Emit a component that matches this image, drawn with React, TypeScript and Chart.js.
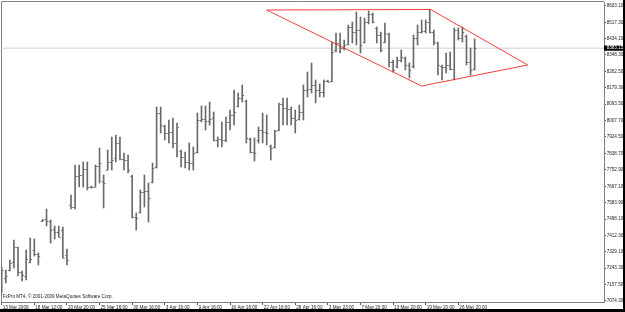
import React, { useEffect, useRef } from "react";
import { Chart, registerables } from "chart.js";

Chart.register(...registerables);

// ---- data ----
const xLabels = [
  "13 Mar 2009", "18 Mar 12:00", "20 Mar 20:00", "25 Mar 16:00", "30 Mar 16:00",
  "3 Apr 16:00", "9 Apr 16:00", "16 Apr 16:00", "22 Apr 16:00", "28 Apr 16:00",
  "3 May 23:00", "7 May 20:00", "13 May 20:00", "19 May 20:00", "26 May 20:00",
];
const xLabelBars = [0, 8, 16, 24, 32, 40, 48, 56, 64, 72, 80, 88, 96, 104, 112];

const yTickValues = [
  8603.10, 8517.30, 8434.10, 8348.30, 8262.50, 8179.30, 8093.50, 8007.70, 7924.50,
  7838.70, 7752.90, 7667.10, 7583.90, 7498.10, 7412.30, 7329.10, 7243.30, 7157.50, 7074.30,
];

const opens = [
  7130.4, 7192.6, 7234.0, 7275.4, 7353.1, 7223.6, 7202.9, 7275.4, 7337.6, 7316.9,
  7487.8, 7498.2, 7487.8, 7446.4, 7430.8, 7441.2, 7311.7, 7570.7, 7560.3, 7720.9,
  7726.1, 7757.2, 7663.9, 7663.9, 7772.7, 7695.0, 7752.0, 7793.4, 7814.2, 7891.9,
  7809.0, 7803.8, 7720.9, 7508.5, 7534.4, 7638.0, 7643.2, 7689.8, 7767.5, 8047.3,
  7979.9, 7943.7, 7948.8, 7891.9, 7850.4, 7819.3, 7793.4, 7788.3, 7845.2, 8011.0,
  8016.2, 8005.8, 8021.4, 7907.4, 7912.6, 7907.4, 8000.6, 8036.9, 8083.5, 8125.0,
  8109.4, 7912.6, 7845.2, 7907.4, 7959.2, 7948.8, 7876.3, 7871.1, 7959.2, 8093.9,
  8073.2, 8068.0, 8021.4, 8016.2, 8052.4, 8166.4, 8171.6, 8192.3, 8166.4, 8156.0,
  8213.0, 8213.0, 8373.6, 8409.9, 8384.0, 8404.7, 8492.7, 8466.8, 8477.2, 8415.0,
  8518.6, 8560.1, 8487.6, 8451.3, 8415.0, 8456.5, 8311.4, 8290.7, 8321.8, 8332.2,
  8295.9, 8290.7, 8435.8, 8466.8, 8472.0, 8518.6, 8466.8, 8409.9, 8290.7, 8285.5,
  8295.9, 8275.2, 8477.2, 8435.8, 8446.1, 8311.4, 8275.2,
];
const highs = [
  7249.5, 7234.0, 7285.8, 7389.4, 7353.1, 7228.8, 7337.6, 7399.8, 7394.6, 7322.1,
  7495.6, 7550.0, 7493.0, 7461.9, 7461.9, 7456.7, 7342.8, 7622.5, 7777.9, 7777.9,
  7793.4, 7793.4, 7669.1, 7777.9, 7866.0, 7726.1, 7855.6, 7922.9, 7933.3, 7922.9,
  7840.1, 7829.7, 7726.1, 7529.3, 7648.4, 7726.1, 7684.7, 7788.3, 8078.3, 8078.3,
  7985.1, 8011.0, 8021.4, 7995.5, 7855.6, 7845.2, 7891.9, 7871.1, 8047.3, 8083.5,
  8083.5, 8104.2, 8052.4, 7922.9, 8000.6, 8026.5, 8062.8, 8166.4, 8150.9, 8192.3,
  8114.6, 7917.8, 7917.8, 7974.7, 8047.3, 8036.9, 7881.5, 7959.2, 8099.1, 8125.0,
  8125.0, 8078.3, 8062.8, 8088.7, 8192.3, 8259.6, 8306.3, 8218.2, 8197.5, 8218.2,
  8218.2, 8415.0, 8461.7, 8461.7, 8425.4, 8503.1, 8518.6, 8570.4, 8544.5, 8539.4,
  8575.6, 8565.3, 8492.7, 8466.8, 8513.5, 8461.7, 8321.8, 8337.3, 8373.6, 8337.3,
  8306.3, 8451.3, 8503.1, 8529.0, 8529.0, 8583.4, 8477.2, 8415.0, 8295.9, 8358.1,
  8363.2, 8487.6, 8487.6, 8492.7, 8451.3, 8384.0, 8430.6,
];
const lows = [
  7114.9, 7166.7, 7228.8, 7244.4, 7202.9, 7177.0, 7182.2, 7270.3, 7306.5, 7259.9,
  7485.2, 7461.9, 7373.9, 7394.6, 7404.9, 7296.2, 7259.9, 7550.0, 7550.0, 7663.9,
  7663.9, 7648.4, 7658.8, 7663.9, 7684.7, 7555.2, 7752.0, 7752.0, 7793.4, 7803.8,
  7752.0, 7736.5, 7503.4, 7441.2, 7529.3, 7560.3, 7482.6, 7684.7, 7762.4, 7943.7,
  7907.4, 7891.9, 7866.0, 7819.3, 7767.5, 7762.4, 7752.0, 7752.0, 7840.1, 8000.6,
  7959.2, 7985.1, 7902.2, 7871.1, 7871.1, 7897.0, 7959.2, 7985.1, 8078.3, 8104.2,
  7891.9, 7840.1, 7798.6, 7891.9, 7891.9, 7881.5, 7803.8, 7866.0, 7954.0, 7985.1,
  7985.1, 7985.1, 7943.7, 8011.0, 8011.0, 8130.1, 8150.9, 8099.1, 8130.1, 8130.1,
  8207.8, 8207.8, 8363.2, 8358.1, 8373.6, 8399.5, 8409.9, 8399.5, 8358.1, 8409.9,
  8508.3, 8513.5, 8409.9, 8363.2, 8409.9, 8285.5, 8259.6, 8280.4, 8311.4, 8270.0,
  8228.6, 8280.4, 8399.5, 8461.7, 8461.7, 8461.7, 8399.5, 8244.1, 8218.2, 8254.5,
  8270.0, 8218.2, 8425.4, 8415.0, 8295.9, 8244.1, 8270.0,
];
const closes = [
  7234.0, 7202.9, 7270.3, 7353.1, 7223.6, 7208.1, 7291.0, 7291.0, 7316.9, 7306.5,
  7493.0, 7487.8, 7441.2, 7430.8, 7404.9, 7296.2, 7285.8, 7560.3, 7720.9, 7726.1,
  7757.2, 7663.9, 7666.5, 7772.7, 7788.3, 7684.7, 7793.4, 7803.8, 7891.9, 7809.0,
  7803.8, 7752.0, 7508.5, 7503.4, 7638.0, 7643.2, 7607.0, 7762.4, 8047.3, 7985.1,
  7943.7, 7948.8, 7891.9, 7974.7, 7819.3, 7793.4, 7788.3, 7840.1, 8011.0, 8016.2,
  8005.8, 8016.2, 7907.4, 7912.6, 7907.4, 8000.6, 8036.9, 8052.4, 8125.0, 8140.5,
  7917.8, 7845.2, 7840.1, 7959.2, 7948.8, 7943.7, 7866.0, 7954.0, 8093.9, 8073.2,
  8068.0, 8021.4, 8011.0, 8052.4, 8166.4, 8171.6, 8192.3, 8166.4, 8156.0, 8213.0,
  8210.4, 8363.2, 8409.9, 8384.0, 8399.5, 8492.7, 8466.8, 8477.2, 8399.5, 8518.6,
  8560.1, 8518.6, 8451.3, 8373.6, 8461.7, 8311.4, 8270.0, 8321.8, 8337.3, 8295.9,
  8270.0, 8435.8, 8466.8, 8472.0, 8518.6, 8466.8, 8415.0, 8295.9, 8285.5, 8295.9,
  8275.2, 8477.2, 8435.8, 8466.8, 8311.4, 8270.0, 8383.15,
];

const bidPrice = 8383.15;

// diamond pattern drawn by the analyst (bar index, price)
const patternBars = [65.0, 105.2, 129.0, 103.0, 65.0];
const patternPrices = [8580.8, 8583.4, 8296.0, 8187.1, 8580.8];

const copyrightText = "FxPro MT4, \u00A9 2001-2009 MetaQuotes Software Corp.";

// ---- view range / style ----
const X_MIN = -0.17;
const X_MAX = 147.73;
const Y_MIN = 7068.24;
const Y_MAX = 8622.24;
const BAR_COLOR = "#6a6a6a";
const FONT = { family: "Liberation Sans", size: 4.6 };

const ohlcPlugin = {
  id: "ohlcTicks",
  afterDatasetsDraw(chart: any) {
    const { ctx, chartArea } = chart;
    const xs = chart.scales.x;
    const ys = chart.scales.y;
    ctx.save();
    ctx.beginPath();
    ctx.rect(chartArea.left, chartArea.top, chartArea.right - chartArea.left, chartArea.bottom - chartArea.top);
    ctx.clip();
    ctx.strokeStyle = BAR_COLOR;
    ctx.lineWidth = 1;
    ctx.beginPath();
    for (let i = 0; i < opens.length; i++) {
      const px = xs.getPixelForValue(i);
      const yo = Math.round(ys.getPixelForValue(opens[i])) + 0.5;
      const yc = Math.round(ys.getPixelForValue(closes[i])) + 0.5;
      ctx.moveTo(px - 1.8, yo);
      ctx.lineTo(px - 0.4, yo);
      ctx.moveTo(px + 0.4, yc);
      ctx.lineTo(px + 1.8, yc);
    }
    ctx.stroke();
    ctx.restore();
  },
};

const framePlugin = {
  id: "frame",
  beforeDatasetsDraw(chart: any) {
    const { ctx, chartArea } = chart;
    ctx.save();
    ctx.strokeStyle = "#808080";
    ctx.lineWidth = 1;
    ctx.beginPath();
    ctx.moveTo(chartArea.left + 0.5, chartArea.bottom);
    ctx.lineTo(chartArea.left + 0.5, chartArea.top - 0.5);
    ctx.lineTo(chartArea.right, chartArea.top - 0.5);
    ctx.stroke();
    ctx.restore();
  },
  afterDraw(chart: any) {
    const { ctx, chartArea } = chart;
    const ys = chart.scales.y;
    ctx.save();
    ctx.font = `${FONT.size}px ${FONT.family}`;
    ctx.fillStyle = "#222";
    ctx.textBaseline = "middle";
    ctx.textAlign = "left";
    ctx.fillText(copyrightText, chartArea.left + 1.7, chartArea.bottom - 5.5);
    const py = ys.getPixelForValue(bidPrice);
    ctx.fillStyle = "#000";
    ctx.fillRect(chartArea.right, py - 2.6, 19, 5.2);
    ctx.fillStyle = "#fff";
    ctx.fillText(bidPrice.toFixed(2), chartArea.right + 2.7, py);
    ctx.restore();
  },
};

export default function App() {
  const ref = useRef<HTMLCanvasElement | null>(null);

  useEffect(() => {
    if (!ref.current) return;
    const chart = new Chart(ref.current, {
      type: "bar",
      data: {
        datasets: [
          {
            type: "line",
            label: "bid",
            data: [
              { x: X_MIN, y: bidPrice },
              { x: X_MAX, y: bidPrice },
            ],
            borderColor: "#d0d0d0",
            borderWidth: 1,
            pointRadius: 0,
            order: 3,
          } as any,
          {
            type: "bar",
            label: "range",
            data: highs.map((h, i) => ({ x: i, y: [lows[i], h] })),
            backgroundColor: BAR_COLOR,
            borderWidth: 0,
            barThickness: 1,
            order: 2,
          } as any,
          {
            type: "line",
            label: "pattern",
            data: patternBars.map((b, i) => ({ x: b, y: patternPrices[i] })),
            borderColor: "rgba(240,30,30,0.85)",
            borderWidth: 1,
            pointRadius: 0,
            tension: 0,
            order: 1,
          } as any,
        ],
      },
      options: {
        animation: false,
        responsive: false,
        devicePixelRatio: 1,
        events: [],
        layout: { padding: { left: 1, top: 2, right: 0, bottom: 0 } },
        plugins: { legend: { display: false }, tooltip: { enabled: false } },
        scales: {
          x: {
            type: "linear",
            min: X_MIN,
            max: X_MAX,
            offset: false,
            afterBuildTicks: (s: any) => {
              s.ticks = xLabelBars.map((v) => ({ value: v }));
            },
            afterFit: (s: any) => {
              s.height = 7;
              s.paddingLeft = 0;
              s.paddingRight = 0;
            },
            ticks: {
              autoSkip: false,
              maxRotation: 0,
              minRotation: 0,
              align: "start",
              padding: 0.3,
              labelOffset: 1,
              color: "#222",
              font: FONT,
              callback: (_v: any, i: number) => xLabels[i],
            },
            grid: { offset: false, drawOnChartArea: false, drawTicks: true, tickLength: 3, color: "#555" },
            border: { display: true, color: "#808080" },
          } as any,
          y: {
            type: "linear",
            position: "right",
            min: Y_MIN,
            max: Y_MAX,
            afterBuildTicks: (s: any) => {
              s.ticks = yTickValues.map((v) => ({ value: v }));
            },
            afterFit: (s: any) => {
              s.width = 19;
              s.paddingTop = 0;
              s.paddingBottom = 0;
            },
            ticks: {
              autoSkip: false,
              padding: 0.7,
              color: "#222",
              font: FONT,
              callback: (v: any) => Number(v).toFixed(2),
            },
            grid: { drawOnChartArea: false, drawTicks: true, tickLength: 2, color: "#555" },
            border: { display: true, color: "#808080" },
          } as any,
        },
      },
      plugins: [framePlugin, ohlcPlugin],
    } as any);
    return () => chart.destroy();
  }, []);

  return (
    <div
      style={{
        position: "absolute",
        left: 0,
        top: 0,
        width: 625,
        height: 312,
        boxSizing: "border-box",
        borderRight: "2px solid #000",
        borderBottom: "3px solid #000",
        background: "#fff",
      }}
    >
      <canvas ref={ref} width={623} height={309} style={{ display: "block", width: 623, height: 309 }} />
    </div>
  );
}
